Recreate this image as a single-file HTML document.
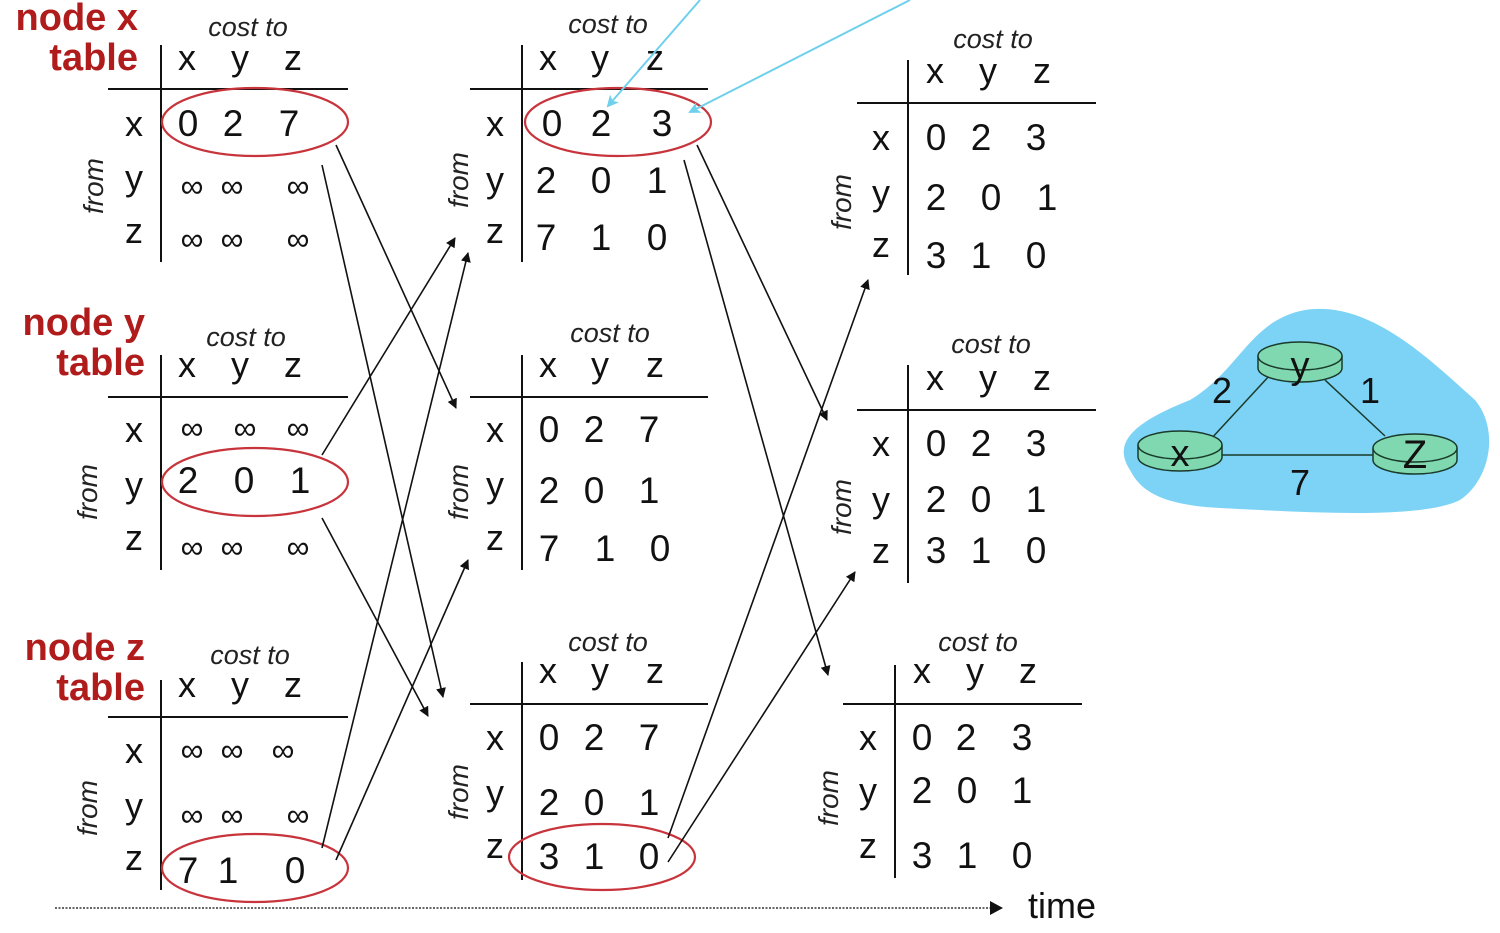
<!DOCTYPE html>
<html><head><meta charset="utf-8"><style>
html,body{margin:0;padding:0;background:#fff;}
svg{display:block;font-family:"Liberation Sans",sans-serif;}
.c{font-style:italic;font-size:27px;text-anchor:middle;fill:#222}
.h{font-size:36px;text-anchor:middle;fill:#111}
.v{font-size:37px;text-anchor:middle;fill:#111}
.i{font-size:32px;text-anchor:middle;fill:#111}
.f{font-style:italic;font-size:28px;text-anchor:middle;fill:#222}
.n{font-weight:bold;font-size:38px;fill:#b01c1c;text-anchor:end}
.l{stroke:#111;stroke-width:2;fill:none}
.a{stroke:#111;stroke-width:1.6;fill:none;marker-end:url(#ah)}
.e{stroke:#c8343c;stroke-width:2.2;fill:none}
</style></head><body>
<svg width="1500" height="933" viewBox="0 0 1500 933">
<defs>
<marker id="ah" markerWidth="10" markerHeight="10" refX="9" refY="5" orient="auto" markerUnits="userSpaceOnUse"><path d="M0,0 L10,5 L0,10 z" fill="#111"/></marker>
<marker id="ac" markerWidth="12" markerHeight="12" refX="10" refY="6" orient="auto" markerUnits="userSpaceOnUse"><path d="M0,0 L12,6 L0,12 L3,6 z" fill="#6fd0ec"/></marker>
</defs>

<!-- Column 1 -->
<text class="n" x="138" y="30">node x</text><text class="n" x="138" y="70">table</text>
<text class="c" x="248" y="36">cost to</text>
<text class="h" x="187" y="70">x</text><text class="h" x="240" y="70">y</text><text class="h" x="293" y="70">z</text>
<line class="l" x1="161" y1="45" x2="161" y2="262"/><line class="l" x1="108" y1="89" x2="348" y2="89"/>
<text class="h" x="134" y="136">x</text><text class="h" x="134" y="190">y</text><text class="h" x="134" y="243">z</text>
<text class="f" transform="translate(103,186) rotate(-90)">from</text>
<text class="v" x="188" y="136">0</text><text class="v" x="233" y="136">2</text><text class="v" x="289" y="136">7</text>
<text class="i" x="192" y="197">∞</text><text class="i" x="232" y="197">∞</text><text class="i" x="298" y="197">∞</text>
<text class="i" x="192" y="250">∞</text><text class="i" x="232" y="250">∞</text><text class="i" x="298" y="250">∞</text>
<ellipse class="e" cx="255" cy="122" rx="93" ry="34"/>

<text class="n" x="145" y="335">node y</text><text class="n" x="145" y="375">table</text>
<text class="c" x="246" y="346">cost to</text>
<text class="h" x="187" y="377">x</text><text class="h" x="240" y="377">y</text><text class="h" x="293" y="377">z</text>
<line class="l" x1="161" y1="355" x2="161" y2="570"/><line class="l" x1="108" y1="397" x2="348" y2="397"/>
<text class="h" x="134" y="442">x</text><text class="h" x="134" y="497">y</text><text class="h" x="134" y="550">z</text>
<text class="f" transform="translate(97,492) rotate(-90)">from</text>
<text class="i" x="192" y="439">∞</text><text class="i" x="245" y="439">∞</text><text class="i" x="298" y="439">∞</text>
<text class="v" x="188" y="493">2</text><text class="v" x="244" y="493">0</text><text class="v" x="300" y="493">1</text>
<text class="i" x="192" y="558">∞</text><text class="i" x="232" y="558">∞</text><text class="i" x="298" y="558">∞</text>
<ellipse class="e" cx="255" cy="482" rx="93" ry="34"/>

<text class="n" x="145" y="660">node z</text><text class="n" x="145" y="700">table</text>
<text class="c" x="250" y="664">cost to</text>
<text class="h" x="187" y="697">x</text><text class="h" x="240" y="697">y</text><text class="h" x="293" y="697">z</text>
<line class="l" x1="161" y1="680" x2="161" y2="890"/><line class="l" x1="108" y1="717" x2="348" y2="717"/>
<text class="h" x="134" y="763">x</text><text class="h" x="134" y="818">y</text><text class="h" x="134" y="870">z</text>
<text class="f" transform="translate(97,808) rotate(-90)">from</text>
<text class="i" x="192" y="761">∞</text><text class="i" x="232" y="761">∞</text><text class="i" x="283" y="761">∞</text>
<text class="i" x="192" y="826">∞</text><text class="i" x="232" y="826">∞</text><text class="i" x="298" y="826">∞</text>
<text class="v" x="188" y="883">7</text><text class="v" x="228" y="883">1</text><text class="v" x="295" y="883">0</text>
<ellipse class="e" cx="255" cy="868" rx="93" ry="34"/>

<!-- Column 2 -->
<text class="c" x="608" y="33">cost to</text>
<text class="h" x="548" y="70">x</text><text class="h" x="600" y="70">y</text><text class="h" x="655" y="70">z</text>
<line class="l" x1="522" y1="45" x2="522" y2="262"/><line class="l" x1="470" y1="89" x2="708" y2="89"/>
<text class="h" x="495" y="136">x</text><text class="h" x="495" y="192">y</text><text class="h" x="495" y="243">z</text>
<text class="f" transform="translate(468,180) rotate(-90)">from</text>
<text class="v" x="552" y="136">0</text><text class="v" x="601" y="136">2</text><text class="v" x="662" y="136">3</text>
<text class="v" x="546" y="193">2</text><text class="v" x="601" y="193">0</text><text class="v" x="657" y="193">1</text>
<text class="v" x="546" y="250">7</text><text class="v" x="601" y="250">1</text><text class="v" x="657" y="250">0</text>
<ellipse class="e" cx="618" cy="122" rx="93" ry="34"/>

<text class="c" x="610" y="342">cost to</text>
<text class="h" x="548" y="377">x</text><text class="h" x="600" y="377">y</text><text class="h" x="655" y="377">z</text>
<line class="l" x1="522" y1="355" x2="522" y2="570"/><line class="l" x1="470" y1="397" x2="708" y2="397"/>
<text class="h" x="495" y="442">x</text><text class="h" x="495" y="497">y</text><text class="h" x="495" y="550">z</text>
<text class="f" transform="translate(468,492) rotate(-90)">from</text>
<text class="v" x="549" y="442">0</text><text class="v" x="594" y="442">2</text><text class="v" x="649" y="442">7</text>
<text class="v" x="549" y="503">2</text><text class="v" x="594" y="503">0</text><text class="v" x="649" y="503">1</text>
<text class="v" x="549" y="561">7</text><text class="v" x="605" y="561">1</text><text class="v" x="660" y="561">0</text>

<text class="c" x="608" y="651">cost to</text>
<text class="h" x="548" y="683">x</text><text class="h" x="600" y="683">y</text><text class="h" x="655" y="683">z</text>
<line class="l" x1="522" y1="662" x2="522" y2="880"/><line class="l" x1="470" y1="704" x2="708" y2="704"/>
<text class="h" x="495" y="750">x</text><text class="h" x="495" y="805">y</text><text class="h" x="495" y="858">z</text>
<text class="f" transform="translate(468,792) rotate(-90)">from</text>
<text class="v" x="549" y="750">0</text><text class="v" x="594" y="750">2</text><text class="v" x="649" y="750">7</text>
<text class="v" x="549" y="815">2</text><text class="v" x="594" y="815">0</text><text class="v" x="649" y="815">1</text>
<text class="v" x="549" y="869">3</text><text class="v" x="594" y="869">1</text><text class="v" x="649" y="869">0</text>
<ellipse class="e" cx="602" cy="857" rx="93" ry="33"/>

<!-- Column 3 -->
<text class="c" x="993" y="48">cost to</text>
<text class="h" x="935" y="83">x</text><text class="h" x="988" y="83">y</text><text class="h" x="1042" y="83">z</text>
<line class="l" x1="908" y1="60" x2="908" y2="275"/><line class="l" x1="857" y1="103" x2="1096" y2="103"/>
<text class="h" x="881" y="150">x</text><text class="h" x="881" y="205">y</text><text class="h" x="881" y="257">z</text>
<text class="f" transform="translate(851,202) rotate(-90)">from</text>
<text class="v" x="936" y="150">0</text><text class="v" x="981" y="150">2</text><text class="v" x="1036" y="150">3</text>
<text class="v" x="936" y="210">2</text><text class="v" x="991" y="210">0</text><text class="v" x="1047" y="210">1</text>
<text class="v" x="936" y="268">3</text><text class="v" x="981" y="268">1</text><text class="v" x="1036" y="268">0</text>

<text class="c" x="991" y="353">cost to</text>
<text class="h" x="935" y="390">x</text><text class="h" x="988" y="390">y</text><text class="h" x="1042" y="390">z</text>
<line class="l" x1="908" y1="365" x2="908" y2="583"/><line class="l" x1="857" y1="410" x2="1096" y2="410"/>
<text class="h" x="881" y="456">x</text><text class="h" x="881" y="512">y</text><text class="h" x="881" y="563">z</text>
<text class="f" transform="translate(851,507) rotate(-90)">from</text>
<text class="v" x="936" y="456">0</text><text class="v" x="981" y="456">2</text><text class="v" x="1036" y="456">3</text>
<text class="v" x="936" y="512">2</text><text class="v" x="981" y="512">0</text><text class="v" x="1036" y="512">1</text>
<text class="v" x="936" y="563">3</text><text class="v" x="981" y="563">1</text><text class="v" x="1036" y="563">0</text>

<text class="c" x="978" y="651">cost to</text>
<text class="h" x="922" y="683">x</text><text class="h" x="975" y="683">y</text><text class="h" x="1028" y="683">z</text>
<line class="l" x1="895" y1="665" x2="895" y2="878"/><line class="l" x1="843" y1="704" x2="1082" y2="704"/>
<text class="h" x="868" y="750">x</text><text class="h" x="868" y="803">y</text><text class="h" x="868" y="858">z</text>
<text class="f" transform="translate(838,798) rotate(-90)">from</text>
<text class="v" x="922" y="750">0</text><text class="v" x="966" y="750">2</text><text class="v" x="1022" y="750">3</text>
<text class="v" x="922" y="803">2</text><text class="v" x="967" y="803">0</text><text class="v" x="1022" y="803">1</text>
<text class="v" x="922" y="868">3</text><text class="v" x="967" y="868">1</text><text class="v" x="1022" y="868">0</text>

<!-- arrows -->
<line class="a" x1="336" y1="145" x2="456" y2="408"/>
<line class="a" x1="322" y1="165" x2="443" y2="697"/>
<line class="a" x1="322" y1="455" x2="455" y2="238"/>
<line class="a" x1="322" y1="518" x2="428" y2="716"/>
<line class="a" x1="322" y1="848" x2="468" y2="253"/>
<line class="a" x1="336" y1="860" x2="468" y2="560"/>
<line class="a" x1="697" y1="145" x2="827" y2="420"/>
<line class="a" x1="684" y1="160" x2="828" y2="675"/>
<line class="a" x1="668" y1="838" x2="868" y2="280"/>
<line class="a" x1="668" y1="862" x2="855" y2="572"/>
<line x1="700" y1="0" x2="608" y2="106" stroke="#6fd0ec" stroke-width="2" marker-end="url(#ac)"/>
<line x1="910" y1="0" x2="690" y2="112" stroke="#6fd0ec" stroke-width="2" marker-end="url(#ac)"/>

<!-- time -->
<line x1="55" y1="908" x2="992" y2="908" stroke="#333" stroke-width="1.5" stroke-dasharray="2,1.5"/>
<path d="M990,901 L1003,908 L990,915 z" fill="#111"/>
<text x="1028" y="918" font-size="36" fill="#111">time</text>

<!-- network -->
<path d="M1130,470 C1110,440 1140,420 1190,400 C1240,370 1250,320 1305,310 C1370,300 1430,360 1475,400 C1500,430 1490,480 1460,500 C1420,520 1300,512 1220,508 C1160,505 1140,490 1130,470 z" fill="#7dd3f5"/>
<g stroke="#1a3a2a" stroke-width="1.5">
<line x1="1210" y1="440" x2="1270" y2="375"/>
<line x1="1325" y1="380" x2="1385" y2="436"/>
<line x1="1220" y1="455" x2="1375" y2="455"/>
</g>
<g stroke="#1a3a2a" stroke-width="1.5" fill="#7fd8b0">
<path d="M1258,356 v12 a42,14 0 0 0 84,0 v-12"/><ellipse cx="1300" cy="356" rx="42" ry="14"/>
<path d="M1138,445 v12 a42,14 0 0 0 84,0 v-12"/><ellipse cx="1180" cy="445" rx="42" ry="14"/>
<path d="M1373,448 v12 a42,14 0 0 0 84,0 v-12"/><ellipse cx="1415" cy="448" rx="42" ry="14"/>
</g>
<text x="1300" y="378" font-size="38" text-anchor="middle" fill="#111">y</text>
<text x="1180" y="466" font-size="38" text-anchor="middle" fill="#111">x</text>
<text x="1415" y="468" font-size="40" text-anchor="middle" fill="#111">Z</text>
<text x="1222" y="403" font-size="36" text-anchor="middle" fill="#111">2</text>
<text x="1370" y="403" font-size="36" text-anchor="middle" fill="#111">1</text>
<text x="1300" y="495" font-size="36" text-anchor="middle" fill="#111">7</text>
</svg>
</body></html>
